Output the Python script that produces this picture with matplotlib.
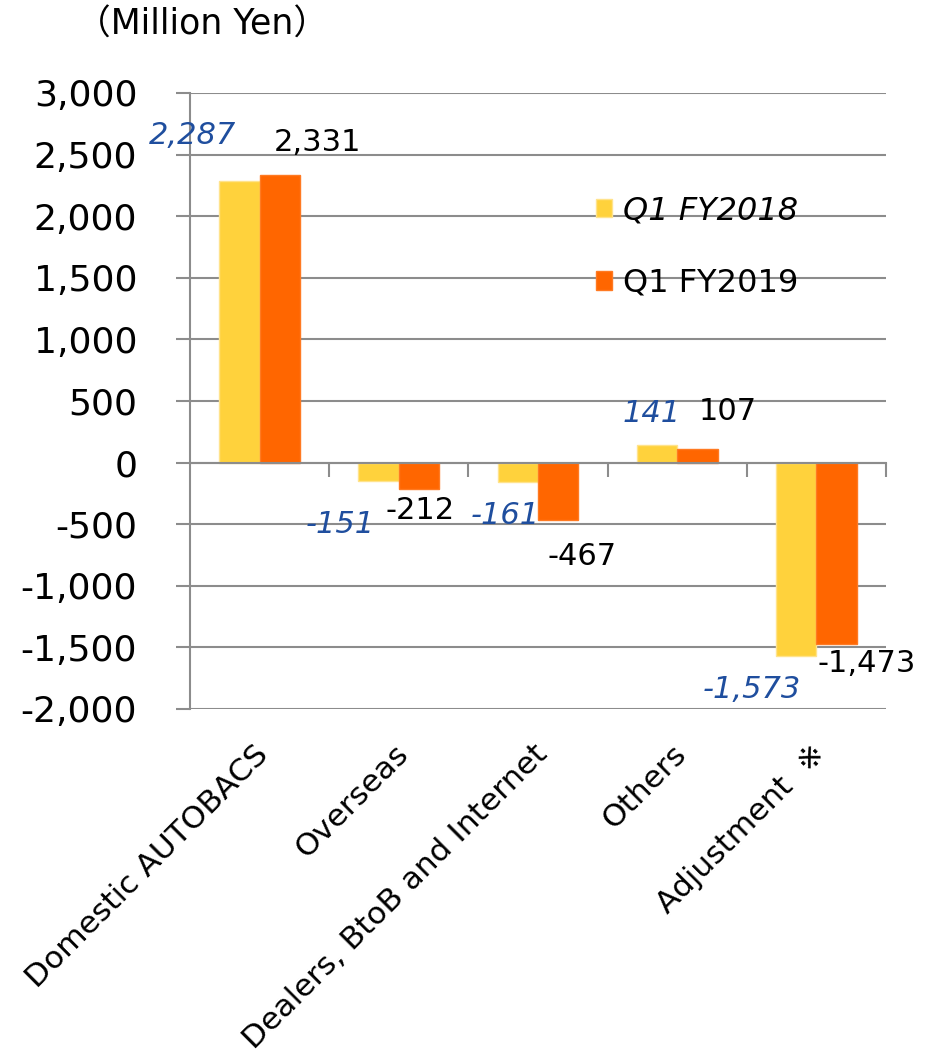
import matplotlib
matplotlib.use("Agg")
import matplotlib.pyplot as plt

plt.rcParams['font.family'] = ['DejaVu Sans', 'Noto Sans CJK JP']

categories = ["Domestic AUTOBACS", "Overseas", "Dealers, BtoB and Internet",
              "Others", "Adjustment  ※"]
fy2018 = [2287, -151, -161, 141, -1573]
fy2019 = [2331, -212, -467, 107, -1473]
series_names = ["Q1 FY2018", "Q1 FY2019"]
yticks = [-2000, -1500, -1000, -500, 0, 500, 1000, 1500, 2000, 2500, 3000]

# label offsets (points) from bar end, tuned by eye
off2018 = [(-34, 33), (-28, -31), (-9, -24), (-4, 23), (-32, -24)]
off2019 = [(27, 24), (1, -16), (17, -26), (22, 27), (22, -14)]

yellow = "#FFD23C"
orange = "#FF6600"
blue = "#1F4E9E"
grey = "#8C8C8C"

fig = plt.figure(figsize=(9.34, 10.6), dpi=100)
ax = fig.add_axes([190 / 934, 1 - 709 / 1060, 696 / 934, 616 / 1060])

w = 0.29
x = list(range(len(categories)))
ax.bar([i - w / 2 for i in x], fy2018, w, color=yellow, edgecolor="#FFE38C",
       linewidth=1, zorder=3, label=series_names[0])
ax.bar([i + w / 2 for i in x], fy2019, w, color=orange, edgecolor="#FF7A22",
       linewidth=1, zorder=3, label=series_names[1])

ax.set_xlim(-0.5, len(categories) - 0.5)
ax.set_ylim(-2000, 3000)
ax.set_yticks(yticks)
ax.set_yticklabels([f"{v:,}" for v in yticks], fontsize=26)
ax.tick_params(axis="y", length=10, width=1.5, color=grey, pad=28)
ax.yaxis.grid(True, color=grey, linewidth=1.5, zorder=0)

for s in ["top", "right"]:
    ax.spines[s].set_visible(False)
ax.spines["left"].set_color(grey)
ax.spines["left"].set_linewidth(1.5)
ax.spines["bottom"].set_position(("data", 0))
ax.spines["bottom"].set_color(grey)
ax.spines["bottom"].set_linewidth(1.5)
ax.spines["bottom"].set_zorder(4)
ax.set_xticks([i + 0.5 for i in x])
ax.set_xticklabels([])
ax.tick_params(axis="x", length=10, width=1.5, color=grey, direction="out")

for i, cat in enumerate(categories):
    ax.annotate(cat, xy=(i, 0), xycoords=("data", "axes fraction"),
                xytext=(-4, -22), textcoords="offset points",
                rotation=45, rotation_mode="anchor", ha="right", va="top",
                fontsize=22.5)

for i in x:
    v1, v2 = fy2018[i], fy2019[i]
    ax.annotate(f"{v1:,}", xy=(i - w / 2, v1), xytext=off2018[i],
                textcoords="offset points", ha="center", va="center",
                fontsize=22, style="italic", color=blue)
    ax.annotate(f"{v2:,}", xy=(i + w / 2, v2), xytext=off2019[i],
                textcoords="offset points", ha="center", va="center",
                fontsize=22, color="black")

leg = ax.legend(loc="upper left", bbox_to_anchor=(0.56, 0.86), frameon=False,
                fontsize=23, handlelength=0.5, handleheight=0.5,
                handletextpad=0.35, labelspacing=1.3, borderpad=0)
leg.get_texts()[0].set_style("italic")

fig.text(76 / 934, 1 - 25 / 1060, "（Million Yen）", fontsize=25,
         ha="left", va="center")

fig.savefig("out.png", dpi=100)
